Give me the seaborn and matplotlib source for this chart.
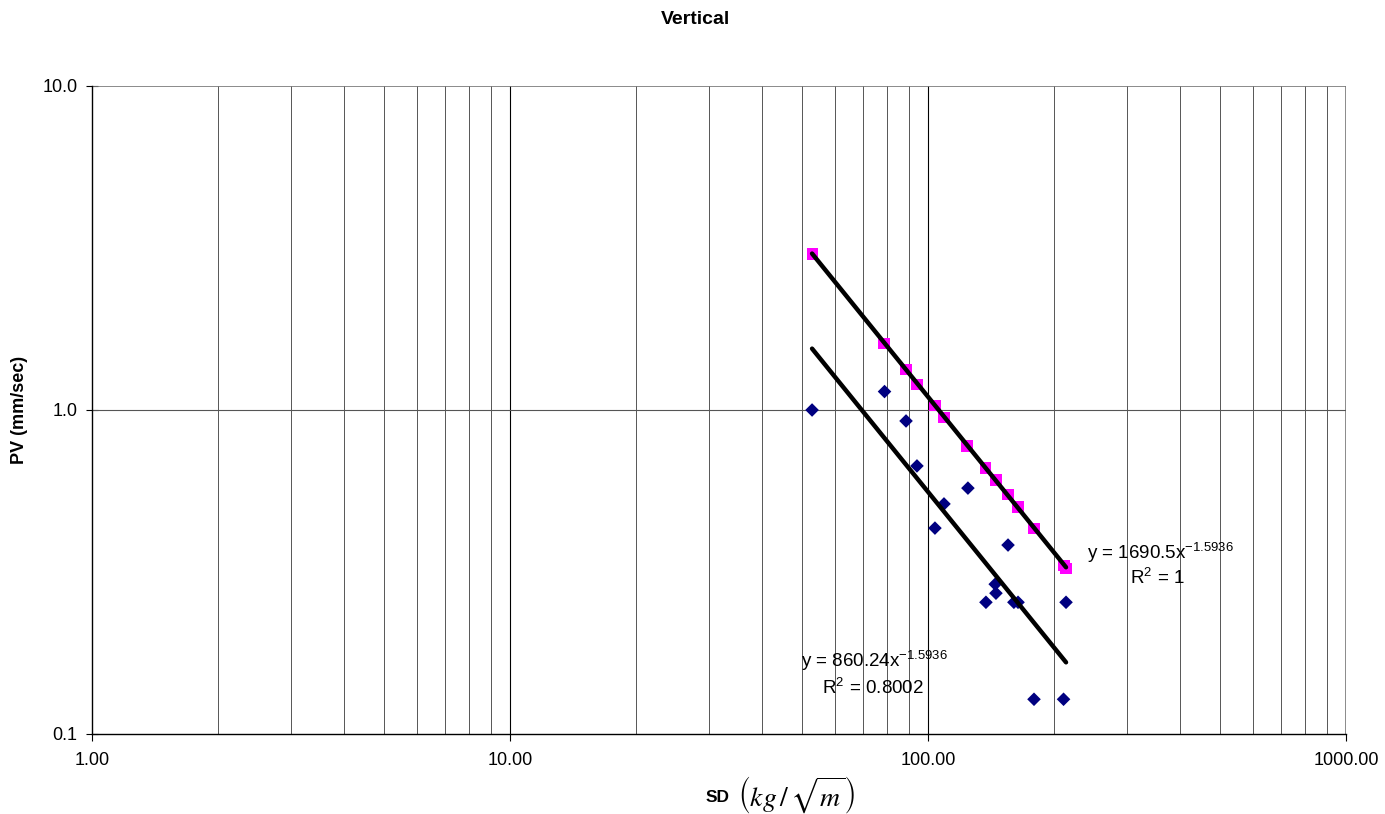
import numpy as np
import pandas as pd
import seaborn as sns
import matplotlib.pyplot as plt
from matplotlib.ticker import FixedLocator, NullLocator, FixedFormatter

# data
sd_pred = [52.8, 78.5, 88.6, 94.1, 103.9, 109.2, 124.0, 137.6, 145.4, 155.4, 164.2, 179.3, 211.5, 213.9]
pv_pred = [3.03, 1.60, 1.33, 1.20, 1.03, 0.95, 0.774, 0.662, 0.608, 0.547, 0.502, 0.432, 0.332, 0.325]

sd_meas = [52.8, 78.7, 88.6, 94.1, 124.6, 109.2, 103.9, 155.4, 144.8, 145.4, 137.6, 160.5, 164.2, 213.9, 179.3, 211.0]
pv_meas = [1.00, 1.14, 0.925, 0.672, 0.574, 0.513, 0.432, 0.383, 0.290, 0.272, 0.255, 0.255, 0.255, 0.255, 0.128, 0.128]

# trendlines as printed on the chart
fit_coef = [1690.5, 860.24]
fit_exp = [-1.5936, -1.5936]

sns.set_style("white")
plt.rcParams['font.family'] = ['Liberation Sans', 'DejaVu Sans']
plt.rcParams['mathtext.fontset'] = 'stix'
plt.rcParams['text.color'] = 'black'
plt.rcParams['xtick.color'] = 'black'
plt.rcParams['ytick.color'] = 'black'

fig = plt.figure(figsize=(13.85, 8.14), dpi=100)
ax = fig.add_axes([92 / 1385, 1 - 734 / 814, (1346 - 92) / 1385, (734 - 86) / 814])

df_pred = pd.DataFrame({'SD': sd_pred, 'PV': pv_pred})
df_meas = pd.DataFrame({'SD': sd_meas, 'PV': pv_meas})

# trendlines over the range of data
xs = np.array([min(sd_pred), max(sd_pred)])
for c, e in zip(fit_coef, fit_exp):
    line = pd.DataFrame({'SD': xs, 'PV': c * xs ** e})
    sns.lineplot(data=line, x='SD', y='PV', ax=ax, color='black', linewidth=3.2, zorder=4)

sns.scatterplot(data=df_meas, x='SD', y='PV', ax=ax, marker='D', color='#000080',
                s=48, edgecolor='none', zorder=3)
sns.scatterplot(data=df_pred, x='SD', y='PV', ax=ax, marker='s', color='#FF00FF',
                s=64, edgecolor='none', zorder=3)

ax.set_xscale('log')
ax.set_yscale('log')
ax.set_xlim(1, 1000)
ax.set_ylim(0.1, 10)

# gridlines: every x minor, y majors only
for dec in [1, 10, 100]:
    for m in range(1, 10):
        v = dec * m
        if v == 1:
            continue
        ax.axvline(v, color='black' if m == 1 else '#555555', linewidth=0.8 if m == 1 else 0.7, zorder=1)
ax.axvline(1000, color='#777777', linewidth=1.2, zorder=1)
ax.axhline(1.0, color='#555555', linewidth=0.8, zorder=1)
ax.axhline(10.0, color='#777777', linewidth=1.2, zorder=1)

ax.xaxis.set_major_locator(FixedLocator([1, 10, 100, 1000]))
ax.xaxis.set_major_formatter(FixedFormatter(['1.00', '10.00', '100.00', '1000.00']))
ax.xaxis.set_minor_locator(NullLocator())
ax.yaxis.set_major_locator(FixedLocator([0.1, 1, 10]))
ax.yaxis.set_major_formatter(FixedFormatter(['0.1', '1.0', '10.0']))
ax.yaxis.set_minor_locator(NullLocator())
ax.tick_params(axis='x', which='major', direction='out', length=5, width=0.8,
               labelsize=13, color='black', labelcolor='black', bottom=True, pad=8)
ax.tick_params(axis='y', which='major', direction='inout', length=9, width=0.8,
               labelsize=13, color='black', labelcolor='black', left=True, pad=6)

for side in ['top', 'right']:
    ax.spines[side].set_visible(False)
for side in ['left', 'bottom']:
    ax.spines[side].set_color('black')
    ax.spines[side].set_linewidth(1.0)

ax.set_xlabel('')
ax.set_ylabel('')

# equation labels
ax.text(240, 0.362, r'y = 1690.5x$^{\mathregular{-1.5936}}$', fontsize=13.5, va='center', ha='left')
ax.text(304, 0.303, r'R$^{\mathregular{2}}$ = 1', fontsize=13.5, va='center', ha='left')
ax.text(49.7, 0.168, r'y = 860.24x$^{\mathregular{-1.5936}}$', fontsize=13.5, va='center', ha='left')
ax.text(55.8, 0.1387, r'R$^{\mathregular{2}}$ = 0.8002', fontsize=13.5, va='center', ha='left')

fig.text(695 / 1385, 1 - 20 / 814, 'Vertical', fontsize=14, fontweight='bold', ha='center', va='center')
fig.text(20 / 1385, 1 - 410 / 814, 'PV (mm/sec)', fontsize=13, fontweight='bold',
         rotation=90, ha='center', va='center')
fig.text(718 / 1385, 1 - 797 / 814, 'SD', fontsize=12.5, fontweight='bold', ha='center', va='center')
fig.text(738 / 1385, 1 - 795 / 814, r'$\left(kg\,/\,\sqrt{m}\right)$', fontsize=20, ha='left', va='center')

fig.savefig('out.png', dpi=100)
